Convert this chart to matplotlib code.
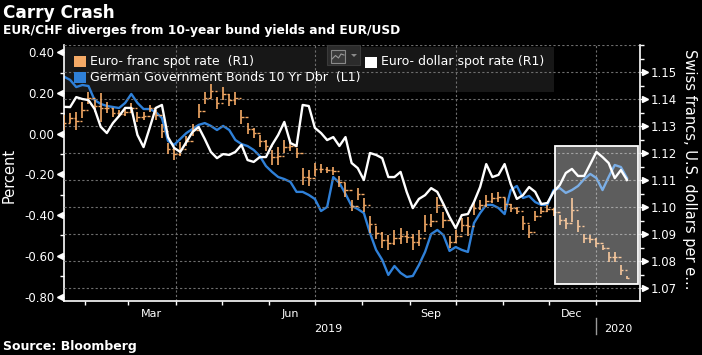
import matplotlib
matplotlib.use("Agg")
import matplotlib.pyplot as plt
import matplotlib.dates as mdates
from matplotlib.patches import Rectangle, Polygon
from matplotlib.lines import Line2D
from matplotlib.ticker import MultipleLocator, NullFormatter
from matplotlib.transforms import ScaledTranslation
import numpy as np
import pandas as pd

plt.rcParams['font.family'] = ['DejaVu Sans']
plt.rcParams['axes.unicode_minus'] = False

# ---------------- data ----------------
dates = pd.date_range("2019-01-18", periods=93, freq="4D")

bund_yield = [0.280, 0.264, 0.229, 0.239, 0.234, 0.165, 0.146, 0.136, 0.131, 0.126,
              0.151, 0.195, 0.151, 0.121, 0.121, 0.106, 0.077, -0.036, -0.055, -0.026,
              0.003, 0.023, 0.043, 0.052, 0.038, 0.018, 0.038, 0.018, -0.031, -0.051,
              -0.061, -0.080, -0.110, -0.159, -0.188, -0.213, -0.223, -0.237, -0.286, -0.286,
              -0.301, -0.321, -0.380, -0.360, -0.213, -0.242, -0.296, -0.355, -0.370, -0.390,
              -0.488, -0.571, -0.620, -0.694, -0.650, -0.684, -0.704, -0.699, -0.645, -0.581,
              -0.493, -0.473, -0.498, -0.576, -0.557, -0.571, -0.581, -0.439, -0.390, -0.350,
              -0.350, -0.365, -0.395, -0.277, -0.257, -0.316, -0.306, -0.336, -0.350, -0.350,
              -0.277, -0.267, -0.291, -0.277, -0.257, -0.223, -0.198, -0.218, -0.277, -0.213,
              -0.154, -0.164, -0.218]

eurusd = [1.1371, 1.1370, 1.1407, 1.1400, 1.1396, 1.1363, 1.1297, 1.1274, 1.1311, 1.1337,
          1.1367, 1.1367, 1.1267, 1.1222, 1.1293, 1.1367, 1.1378, 1.1259, 1.1219, 1.1204,
          1.1241, 1.1278, 1.1296, 1.1252, 1.1204, 1.1181, 1.1196, 1.1193, 1.1204, 1.1230,
          1.1174, 1.1167, 1.1185, 1.1185, 1.1230, 1.1267, 1.1315, 1.1237, 1.1226, 1.1378,
          1.1374, 1.1293, 1.1274, 1.1248, 1.1259, 1.1226, 1.1259, 1.1163, 1.1144, 1.1100,
          1.1200, 1.1193, 1.1181, 1.1111, 1.1111, 1.1130, 1.1056, 1.0996, 1.1030, 1.1044,
          1.1070, 1.1056, 1.1011, 1.0963, 1.0922, 1.0970, 1.0974, 1.1019, 1.1074, 1.1159,
          1.1111, 1.1119, 1.1159, 1.1085, 1.1030, 1.1044, 1.1074, 1.1056, 1.1011, 1.1015,
          1.1056, 1.1081, 1.1126, 1.1141, 1.1115, 1.1115, 1.1159, 1.1204, 1.1185, 1.1163,
          1.1107, 1.1137, 1.1100]

eurchf_high = [1.1341, 1.1348, 1.1352, 1.1389, 1.1426, 1.1396, 1.1422, 1.1389, 1.1367, 1.1359,
               1.1367, 1.1385, 1.1352, 1.1352, 1.1378, 1.1359, 1.1307, 1.1237, 1.1219, 1.1241,
               1.1263, 1.1307, 1.1381, 1.1426, 1.1456, 1.1407, 1.1444, 1.1419, 1.1426, 1.1359,
               1.1311, 1.1293, 1.1267, 1.1248, 1.1211, 1.1222, 1.1248, 1.1248, 1.1219, 1.1144,
               1.1137, 1.1163, 1.1159, 1.1148, 1.1148, 1.1115, 1.1089, 1.1026, 1.1070, 1.1033,
               1.0967, 1.0930, 1.0907, 1.0896, 1.0915, 1.0922, 1.0911, 1.0900, 1.0915, 1.0970,
               1.0974, 1.1037, 1.0981, 1.0893, 1.0915, 1.0959, 1.0963, 1.1022, 1.1026, 1.1044,
               1.1052, 1.1056, 1.1033, 1.1011, 1.1000, 1.0967, 1.0933, 1.0985, 1.1000, 1.1007,
               1.0996, 1.0970, 1.0959, 1.1033, 1.0952, 1.0900, 1.0896, 1.0885, 1.0859, 1.0833,
               1.0833, 1.0785, 1.0744]

eurchf_low = [1.1285, 1.1311, 1.1285, 1.1330, 1.1381, 1.1352, 1.1315, 1.1348, 1.1333, 1.1333,
              1.1337, 1.1348, 1.1315, 1.1322, 1.1352, 1.1322, 1.1256, 1.1196, 1.1174, 1.1189,
              1.1226, 1.1263, 1.1330, 1.1381, 1.1404, 1.1363, 1.1396, 1.1374, 1.1378, 1.1307,
              1.1270, 1.1256, 1.1222, 1.1207, 1.1156, 1.1156, 1.1200, 1.1207, 1.1181, 1.1081,
              1.1078, 1.1115, 1.1126, 1.1126, 1.1119, 1.1074, 1.1037, 1.0985, 1.1026, 1.0981,
              1.0904, 1.0881, 1.0848, 1.0841, 1.0859, 1.0863, 1.0867, 1.0841, 1.0856, 1.0907,
              1.0926, 1.0978, 1.0922, 1.0848, 1.0867, 1.0907, 1.0893, 1.0970, 1.0989, 1.1000,
              1.1015, 1.1019, 1.0989, 1.0981, 1.0974, 1.0915, 1.0885, 1.0948, 1.0974, 1.0981,
              1.0967, 1.0933, 1.0919, 1.0944, 1.0907, 1.0867, 1.0867, 1.0852, 1.0841, 1.0796,
              1.0796, 1.0748, 1.0733]

left_ticks = [0.40, 0.20, 0.00, -0.20, -0.40, -0.60, -0.80]
right_ticks = [1.07, 1.08, 1.09, 1.10, 1.11, 1.12, 1.13, 1.14, 1.15]
month_labels = ["Mar", "Jun", "Sep", "Dec"]
month_label_dates = ["2019-03-16", "2019-06-15", "2019-09-15", "2019-12-16"]
year_labels = ["2019", "2020"]
year_label_dates = ["2019-07-10", "2020-01-15"]
quarter_dates = ["2019-04-01", "2019-07-01", "2019-10-01", "2020-01-01"]
year_break = "2020-01-01"

highlight_start, highlight_end = "2019-12-05", "2020-01-28"
highlight_low, highlight_high = 1.0715, 1.1225

x_start, x_end = "2019-01-18", "2020-01-29 12:00"
left_lim = (-0.822, 0.4355)
right_lim = (1.0652, 1.1600)

ORANGE = '#f5aa66'
BLUE = '#2f80d8'
GRID = '#6e6e6e'

W, H = 702, 355
def fx(x): return x / W
def fy(y): return 1 - y / H

def dn(s):
    return mdates.date2num(pd.Timestamp(s).to_pydatetime())

xd = mdates.date2num(dates.to_pydatetime())

fig = plt.figure(figsize=(7.02, 3.55), dpi=100, facecolor='black')
ax = fig.add_axes([fx(64), fy(301), (640 - 64) / W, (301 - 45) / H])
ax.set_facecolor('black')
ax.xaxis_date()
ax2 = ax.twinx()

ax.set_xlim(dn(x_start), dn(x_end))
ax.set_ylim(*left_lim)
ax2.set_ylim(*right_lim)

# legend background (behind everything in plot)
ax.add_patch(Rectangle((fx(64), fy(92)), (554 - 64) / W, (92 - 47) / H,
                       transform=fig.transFigure, facecolor='#171717',
                       edgecolor='none', zorder=0.5))

# grid
for v in right_ticks + [1.16]:
    ax2.axhline(v, color=GRID, lw=0.8, ls=(0, (2, 2)), zorder=0.6)
for d in quarter_dates:
    ax.axvline(dn(d), color=GRID, lw=0.8, ls=(0, (2, 2)), zorder=0.6)

# bund line
ax.plot(xd, bund_yield, color=BLUE, lw=1.7, zorder=2)

# EUR/CHF bars
hi = np.array(eurchf_high)
lo = np.array(eurchf_low)
mid = (hi + lo) / 2
tk = 1.6
ax2.vlines(xd, lo, hi, color=ORANGE, lw=1.2, zorder=2)
ax2.hlines(mid, xd, xd + tk, color=ORANGE, lw=1.0, zorder=2)
ax2.hlines(mid[:-1], xd[1:] - tk, xd[1:], color=ORANGE, lw=1.0, zorder=2)

# EUR/USD
ax2.plot(xd, eurusd, color='white', lw=1.7, zorder=3)

# highlight box
ax2.add_patch(Rectangle((dn(highlight_start), highlight_low),
                        dn(highlight_end) - dn(highlight_start),
                        highlight_high - highlight_low,
                        facecolor=(1, 1, 1, 0.37), edgecolor='white', lw=1.3, zorder=5))

# spines
for s in ['top', 'right']:
    ax.spines[s].set_visible(False)
for s in ['top', 'left', 'bottom']:
    ax2.spines[s].set_visible(False)
ax.spines['left'].set_color('white')
ax.spines['bottom'].set_color('white')
ax2.spines['right'].set_color('white')
for sp in [ax.spines['left'], ax.spines['bottom'], ax2.spines['right']]:
    sp.set_linewidth(1.2)

# y ticks left
ax.set_yticks(left_ticks)
ax.set_yticklabels([f"{v:.2f}" for v in left_ticks])
ax.yaxis.set_minor_locator(MultipleLocator(0.1))
ax.tick_params(axis='y', which='major', length=3, width=1, color='white',
               labelcolor='white', labelsize=8.5, pad=4)
ax.tick_params(axis='y', which='minor', length=3, width=1, color='white')
trL = ax.get_yaxis_transform() + ScaledTranslation(-0.045, 0, fig.dpi_scale_trans)
ax.plot([0] * len(left_ticks), left_ticks, ls='none', marker='<', ms=4.5,
        color='white', transform=trL, clip_on=False)

# y ticks right
ax2.set_yticks(right_ticks)
ax2.set_yticklabels([f"{v:.2f}" for v in right_ticks])
ax2.yaxis.set_minor_locator(MultipleLocator(0.005))
ax2.tick_params(axis='y', which='major', length=3, width=1, color='white',
                labelcolor='white', labelsize=8.5, pad=4.5)
ax2.tick_params(axis='y', which='minor', length=3, width=1, color='white')
trR = ax2.get_yaxis_transform() + ScaledTranslation(0.045, 0, fig.dpi_scale_trans)
ax2.plot([1] * len(right_ticks), right_ticks, ls='none', marker='>', ms=4.5,
         color='white', transform=trR, clip_on=False)

# x axis
ax.xaxis.set_major_locator(mdates.MonthLocator())
ax.xaxis.set_major_formatter(NullFormatter())
ax.tick_params(axis='x', which='major', length=3, width=1, color='white')
xt = ax.get_xaxis_transform()
for d, lab in zip(month_label_dates, month_labels):
    ax.text(dn(d), -15.7 / 256, lab, transform=xt, ha='center', va='baseline',
            color='white', fontsize=8)
for d, lab in zip(year_label_dates, year_labels):
    ax.text(dn(d), -31.5 / 256, lab, transform=xt, ha='center', va='baseline',
            color='white', fontsize=8)
ax.plot([dn(year_break)] * 2, [-17 / 256, -33 / 256], transform=xt, clip_on=False,
        color='#9a9a9a', lw=1)

# axis labels
fig.text(fx(9), fy(175), "Percent", rotation=90, ha='center', va='center',
         color='white', fontsize=10.5)
fig.text(fx(690), fy(169), "Swiss francs, U.S. dollars per e...", rotation=270,
         ha='center', va='center', color='white', fontsize=10.5)

# titles
fig.text(fx(3), fy(18.5), "Carry Crash", ha='left', va='baseline', color='white',
         fontsize=12.2, fontweight='bold')
fig.text(fx(3), fy(34.3), "EUR/CHF diverges from 10-year bund yields and EUR/USD",
         ha='left', va='baseline', color='white', fontsize=8.8, fontweight='bold')
fig.text(fx(3), fy(350), "Source: Bloomberg", ha='left', va='baseline', color='white',
         fontsize=9, fontweight='bold')

# legend entries
def square(x0, y0, x1, y1, color):
    fig.patches.append(Rectangle((fx(x0), fy(y1)), (x1 - x0) / W, (y1 - y0) / H,
                                 transform=fig.transFigure, facecolor=color,
                                 edgecolor='none', zorder=10))

square(74, 56, 86, 67, ORANGE)
square(74, 72, 86, 83, BLUE)
square(365, 57, 377, 68, 'white')
fig.text(fx(90), fy(62), "Euro- franc spot rate  (R1)", ha='left', va='center',
         color='white', fontsize=9)
fig.text(fx(90), fy(78), "German Government Bonds 10 Yr Dbr  (L1)", ha='left',
         va='center', color='white', fontsize=9)
fig.text(fx(381), fy(62), "Euro- dollar spot rate (R1)", ha='left', va='center',
         color='white', fontsize=9)

# small chart-type icon
fig.patches.append(Rectangle((fx(327), fy(65)), 33 / W, 20 / H, transform=fig.transFigure,
                             facecolor='#2b2b2b', edgecolor='#3a3a3a', lw=0.8, zorder=10))
fig.patches.append(Rectangle((fx(331), fy(63)), 14 / W, 13 / H, transform=fig.transFigure,
                             facecolor='#3a3a3a', edgecolor='#8a8a8a', lw=0.8, zorder=11))
fig.lines.append(Line2D([fx(332), fx(335.5), fx(338.5), fx(341), fx(344)],
                        [fy(59), fy(55.5), fy(58), fy(54), fy(55)],
                        transform=fig.transFigure, color='#9a9a9a', lw=0.8, zorder=12))
fig.patches.append(Polygon([[fx(351), fy(54)], [fx(357), fy(54)], [fx(354), fy(57)]],
                           closed=True, transform=fig.transFigure, facecolor='#8a8a8a',
                           edgecolor='none', zorder=12))

fig.savefig("out.png", dpi=100, facecolor='black')
